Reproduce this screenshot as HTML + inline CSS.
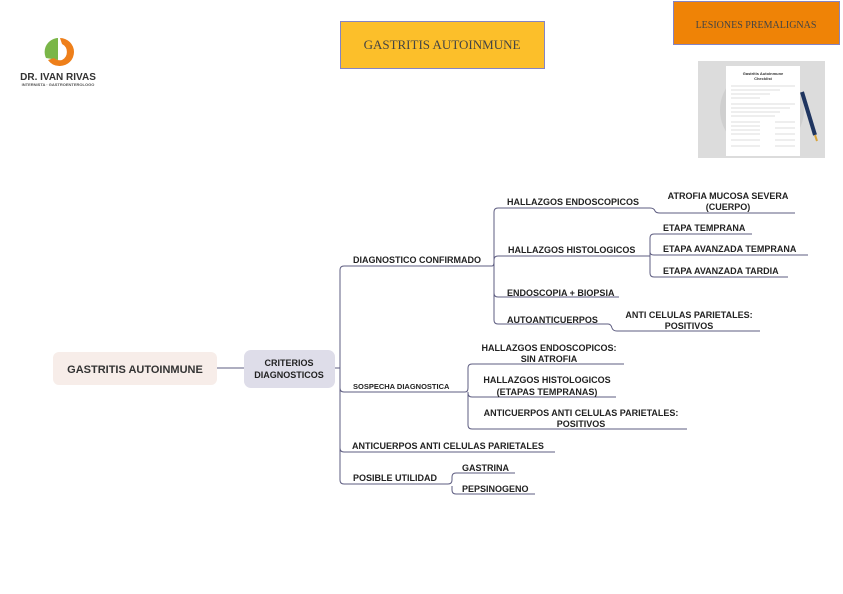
<!DOCTYPE html>
<html><head><meta charset="utf-8"><style>
html,body{margin:0;padding:0;background:#fff;}
svg{display:block;}
.t{font-family:"Liberation Sans",sans-serif;font-weight:bold;font-size:9px;fill:#222;}
</style></head><body>
<svg width="843" height="594" viewBox="0 0 843 594" xmlns="http://www.w3.org/2000/svg">
<!-- logo -->
<path d="M58 38 A14 14 0 0 0 46 58 L58 60 Z" fill="#7ab648"/>
<path d="M60 38 A14 14 0 0 1 60 66 A14 14 0 0 1 48 60 L54 58 A9 9 0 0 0 62 60 A9 9 0 0 0 62 44 Z" fill="#ee7f1a"/>
<text x="58" y="80" text-anchor="middle" font-family="Liberation Sans,sans-serif" font-weight="bold" font-size="10" fill="#333">DR. IVAN RIVAS</text>
<text x="58" y="86" text-anchor="middle" font-family="Liberation Sans,sans-serif" font-weight="bold" font-size="4" fill="#555">INTERNISTA · GASTROENTEROLOGO</text>
<!-- title boxes -->
<rect x="340.5" y="21.5" width="204" height="47" fill="#fcbf2a" stroke="#8484c4"/>
<text x="442" y="49" text-anchor="middle" font-family="Liberation Serif,serif" font-size="13" fill="#444">GASTRITIS AUTOINMUNE</text>
<rect x="673.5" y="1.5" width="166" height="43" fill="#ef8306" stroke="#8484c4"/>
<text x="756" y="28" text-anchor="middle" font-family="Liberation Serif,serif" font-size="10" fill="#444">LESIONES PREMALIGNAS</text>
<!-- image -->
<rect x="698" y="61" width="127" height="97" fill="#dcdcdc"/>
<circle cx="762" cy="110" r="42" fill="#cfcfcf"/>
<rect x="726" y="66" width="74" height="90" fill="#fff"/>
<text x="763" y="75" text-anchor="middle" font-family="Liberation Sans,sans-serif" font-size="4" font-weight="bold" fill="#333">Gastritis Autoinmune</text>
<text x="763" y="80" text-anchor="middle" font-family="Liberation Sans,sans-serif" font-size="4" font-weight="bold" fill="#333">Checklist</text>
<g stroke="#bbb" stroke-width="0.6">
<line x1="731" y1="86" x2="795" y2="86"/><line x1="731" y1="90" x2="780" y2="90"/><line x1="731" y1="94" x2="770" y2="94"/><line x1="731" y1="98" x2="760" y2="98"/>
<line x1="731" y1="104" x2="795" y2="104"/><line x1="731" y1="108" x2="790" y2="108"/><line x1="731" y1="112" x2="780" y2="112"/><line x1="731" y1="116" x2="775" y2="116"/>
<line x1="731" y1="122" x2="760" y2="122"/><line x1="731" y1="126" x2="760" y2="126"/><line x1="731" y1="130" x2="760" y2="130"/><line x1="731" y1="134" x2="760" y2="134"/><line x1="731" y1="140" x2="760" y2="140"/><line x1="731" y1="146" x2="760" y2="146"/>
<line x1="775" y1="122" x2="795" y2="122"/><line x1="775" y1="128" x2="795" y2="128"/><line x1="775" y1="134" x2="795" y2="134"/><line x1="775" y1="140" x2="795" y2="140"/><line x1="775" y1="146" x2="795" y2="146"/>
</g>
<line x1="802" y1="92" x2="815" y2="135" stroke="#1f3560" stroke-width="4"/>
<line x1="815" y1="135" x2="817" y2="141" stroke="#d9a43a" stroke-width="2"/>
<!-- nodes -->
<rect x="53" y="352" width="164" height="33" rx="6" fill="#f7ede9"/>
<text x="135" y="373" text-anchor="middle" font-family="Liberation Sans,sans-serif" font-weight="bold" font-size="11" fill="#333">GASTRITIS AUTOINMUNE</text>
<rect x="244" y="350" width="91" height="38" rx="7" fill="#dedde9"/>
<text x="289" y="366" text-anchor="middle" class="t">CRITERIOS</text>
<text x="289" y="378" text-anchor="middle" class="t">DIAGNOSTICOS</text>
<!-- connectors -->
<g fill="none" stroke="#5d5c80" stroke-width="1">
<line x1="217" y1="368" x2="244" y2="368"/>
<line x1="335" y1="368" x2="340" y2="368"/>
<path d="M492 266 H344 Q340 266 340 270 V480 Q340 484 344 484 H448"/>
<path d="M340 388 Q340 392 344 392 H465"/>
<path d="M340 448 Q340 452 344 452 H555"/>
<path d="M492 266 Q494 266 494 262"/>
<path d="M494 320 V212 Q494 208 498 208 H650 Q654 208 655 211 Q656 213 660 213 H795"/>
<path d="M494 260 Q494 256 498 256 H650"/>
<path d="M494 293 Q494 297 498 297 H619"/>
<path d="M494 320 Q494 324 498 324 H608 Q611 324 612 328 Q613 331 617 331 H760"/>
<path d="M650 256 V238 Q650 234 654 234 H752"/>
<path d="M650 252 Q650 255 654 255 H808"/>
<path d="M650 256 V273 Q650 277 654 277 H788"/>
<path d="M465 392 Q468 392 468 388 V368 Q468 364 472 364 H624"/>
<path d="M468 393 Q468 397 472 397 H616"/>
<path d="M468 392 V425 Q468 429 472 429 H687"/>
<path d="M448 484 Q452 484 452 480 V477 Q452 473 456 473 H515"/>
<path d="M452 486 V490 Q452 494 456 494 H535"/>
</g>
<!-- labels -->
<text x="353" y="263" class="t">DIAGNOSTICO CONFIRMADO</text>
<text x="353" y="389" class="t" style="font-size:7.5px">SOSPECHA DIAGNOSTICA</text>
<text x="352" y="449" class="t">ANTICUERPOS ANTI CELULAS PARIETALES</text>
<text x="353" y="481" class="t">POSIBLE UTILIDAD</text>
<text x="507" y="205" class="t">HALLAZGOS ENDOSCOPICOS</text>
<text x="728" y="199" text-anchor="middle" class="t">ATROFIA MUCOSA SEVERA</text>
<text x="728" y="210" text-anchor="middle" class="t">(CUERPO)</text>
<text x="508" y="253" class="t">HALLAZGOS HISTOLOGICOS</text>
<text x="663" y="231" class="t">ETAPA TEMPRANA</text>
<text x="663" y="252" class="t">ETAPA AVANZADA TEMPRANA</text>
<text x="663" y="274" class="t">ETAPA AVANZADA TARDIA</text>
<text x="507" y="296" class="t">ENDOSCOPIA + BIOPSIA</text>
<text x="507" y="323" class="t">AUTOANTICUERPOS</text>
<text x="689" y="318" text-anchor="middle" class="t">ANTI CELULAS PARIETALES:</text>
<text x="689" y="329" text-anchor="middle" class="t">POSITIVOS</text>
<text x="549" y="351" text-anchor="middle" class="t">HALLAZGOS ENDOSCOPICOS:</text>
<text x="549" y="362" text-anchor="middle" class="t">SIN ATROFIA</text>
<text x="547" y="383" text-anchor="middle" class="t">HALLAZGOS HISTOLOGICOS</text>
<text x="547" y="395" text-anchor="middle" class="t">(ETAPAS TEMPRANAS)</text>
<text x="581" y="416" text-anchor="middle" class="t">ANTICUERPOS ANTI CELULAS PARIETALES:</text>
<text x="581" y="427" text-anchor="middle" class="t">POSITIVOS</text>
<text x="462" y="471" class="t">GASTRINA</text>
<text x="462" y="492" class="t">PEPSINOGENO</text>
</svg>
</body></html>
